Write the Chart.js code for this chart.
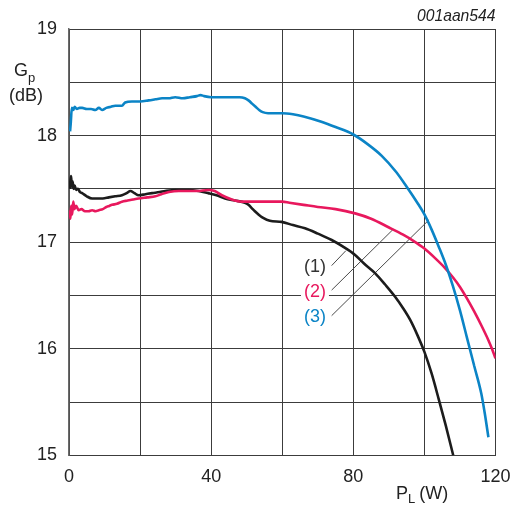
<!DOCTYPE html>
<html>
<head>
<meta charset="utf-8">
<script src="https://cdn.jsdelivr.net/npm/chart.js@4.4.1/dist/chart.umd.min.js"></script>
<style>
  html, body { margin: 0; padding: 0; background: #fff; }
  #wrap { position: relative; width: 515px; height: 507px; }
</style>
</head>
<body>
<div id="wrap"><canvas id="c" width="515" height="507"></canvas></div>
<script>
// ---- Data ----
const curve1P = [0.2, 0.4, 0.6, 0.8, 1.0, 1.3, 1.6, 2.0, 2.5, 3.1, 3.7, 5.0, 6.5, 8.0, 9.5, 11.2, 13.0, 14.9, 16.2, 17.3, 18.4, 19.6, 21.5, 23.4, 25.5, 27.1, 30.0, 33.6, 36.5, 39.2, 41.5, 43.9, 46.7, 49.5, 50.5, 51.4, 52.3, 53.3, 54.5, 56.5, 59.8, 63.0, 66.4, 70.0, 73.9, 77.0, 80.5, 83.0, 86.1, 89.0, 91.7, 94.0, 96.0, 98.0, 100.0, 102.0, 104.0, 106.0, 108.1];
const curve1G = [17.50, 17.58, 17.62, 17.52, 17.57, 17.50, 17.53, 17.49, 17.50, 17.47, 17.46, 17.43, 17.41, 17.41, 17.41, 17.42, 17.43, 17.44, 17.46, 17.48, 17.46, 17.44, 17.45, 17.46, 17.47, 17.48, 17.49, 17.49, 17.48, 17.46, 17.44, 17.41, 17.39, 17.37, 17.35, 17.32, 17.29, 17.26, 17.23, 17.20, 17.19, 17.16, 17.13, 17.08, 17.02, 16.96, 16.88, 16.80, 16.71, 16.60, 16.49, 16.38, 16.27, 16.13, 15.97, 15.77, 15.53, 15.28, 15.00];

const curve2P = [0.2, 0.4, 0.6, 0.9, 1.2, 1.5, 2.0, 2.7, 3.5, 4.5, 5.5, 6.5, 7.5, 8.4, 9.5, 10.5, 11.3, 12.1, 13.5, 14.9, 16.5, 18.0, 19.6, 22.0, 24.3, 26.0, 28.1, 30.9, 33.0, 36.0, 39.2, 41.0, 43.0, 45.8, 48.6, 52.0, 56.0, 60.0, 62.0, 66.0, 70.0, 75.0, 80.5, 85.0, 89.9, 94.0, 97.0, 100.0, 103.0, 106.0, 108.0, 110.0, 112.0, 114.0, 116.0, 118.0, 119.0, 120.0];
const curve2G = [17.30, 17.22, 17.34, 17.26, 17.38, 17.31, 17.34, 17.30, 17.31, 17.29, 17.29, 17.30, 17.29, 17.30, 17.31, 17.33, 17.34, 17.35, 17.36, 17.38, 17.39, 17.40, 17.41, 17.42, 17.43, 17.45, 17.47, 17.48, 17.48, 17.48, 17.49, 17.48, 17.44, 17.40, 17.38, 17.38, 17.38, 17.38, 17.37, 17.35, 17.33, 17.31, 17.27, 17.22, 17.14, 17.07, 17.01, 16.94, 16.85, 16.75, 16.67, 16.58, 16.47, 16.35, 16.22, 16.08, 16.00, 15.91];

const curve3P = [0.3, 0.5, 0.8, 1.2, 1.6, 2.2, 3.0, 3.7, 5.0, 6.2, 7.4, 8.4, 9.3, 10.5, 11.8, 13.0, 14.9, 15.8, 17.7, 20.0, 22.4, 24.3, 26.2, 28.0, 29.9, 32.0, 34.0, 36.0, 37.0, 38.0, 40.0, 44.0, 48.0, 49.5, 50.5, 51.5, 52.5, 53.5, 54.5, 56.0, 60.0, 63.0, 66.0, 71.0, 75.0, 80.0, 84.0, 88.0, 92.0, 95.0, 98.0, 100.0, 102.0, 104.0, 106.0, 108.0, 110.0, 112.0, 114.0, 116.0, 117.0, 118.0];
const curve3G = [18.04, 18.12, 18.26, 18.24, 18.27, 18.25, 18.26, 18.26, 18.25, 18.25, 18.24, 18.26, 18.24, 18.26, 18.27, 18.28, 18.28, 18.31, 18.32, 18.32, 18.33, 18.34, 18.35, 18.35, 18.36, 18.35, 18.36, 18.37, 18.38, 18.37, 18.36, 18.36, 18.36, 18.35, 18.33, 18.30, 18.27, 18.24, 18.22, 18.21, 18.21, 18.20, 18.18, 18.13, 18.08, 18.01, 17.92, 17.81, 17.66, 17.52, 17.37, 17.26, 17.12, 16.96, 16.79, 16.59, 16.36, 16.10, 15.84, 15.58, 15.39, 15.17];

const curveLabels = ['(1)', '(2)', '(3)'];
const labelP = [69.2, 69.2, 69.2];
const labelG = [16.77, 16.53, 16.30];
const leaderStartP = [73.9, 73.9, 73.9];
const leaderStartG = [16.78, 16.55, 16.31];
const leaderEndP = [77.9, 91.2, 101.3];
const leaderEndG = [16.92, 17.12, 17.21];

const xMin = 0, xMax = 120, xStep = 20, xLabelEvery = 40;
const yMin = 15, yMax = 19, yStep = 0.5;

const chartCode = '001aan544';

// ---- Styles ----
const colors = ['#1c1c1c', '#e8185d', '#0b84c6'];
const labelColors = ['#333333', '#e8185d', '#0b84c6'];
const FONT = '"Liberation Sans", Arial, Helvetica, sans-serif';

function pts(px, py) { return px.map((p, i) => ({ x: p, y: py[i] })); }

const datasets = [];
for (let i = 0; i < 3; i++) {
  datasets.push({
    data: [{ x: leaderStartP[i], y: leaderStartG[i] }, { x: leaderEndP[i], y: leaderEndG[i] }],
    borderColor: '#4a4a4a', borderWidth: 1, pointRadius: 0, showLine: true, tension: 0, order: 5
  });
}
const series = [[curve1P, curve1G], [curve2P, curve2G], [curve3P, curve3G]];
series.forEach((s, i) => {
  datasets.push({
    data: pts(s[0], s[1]),
    borderColor: colors[i], borderWidth: 2.6, pointRadius: 0, showLine: true,
    tension: 0.3, cubicInterpolationMode: 'monotone', borderCapStyle: 'butt', borderJoinStyle: 'round',
    order: 3 - i
  });
});

const textPlugin = {
  id: 'texts',
  beforeDatasetsDraw(chart) {
    const { ctx, scales: { x, y } } = chart;
    ctx.save();
    ctx.font = '18px ' + FONT;
    const i = 1;
    const cx = x.getPixelForValue(labelP[i]), cy = y.getPixelForValue(labelG[i]);
    const w = ctx.measureText(curveLabels[i]).width;
    ctx.fillStyle = '#ffffff';
    ctx.fillRect(cx - w / 2 - 3, cy - 10, w + 6, 20);
    ctx.restore();
  },
  afterDraw(chart) {
    const { ctx, scales: { x, y }, chartArea } = chart;
    ctx.save();
    ctx.textBaseline = 'middle';
    ctx.font = '18px ' + FONT;
    ctx.textAlign = 'center';
    for (let i = 0; i < 3; i++) {
      ctx.fillStyle = labelColors[i];
      ctx.fillText(curveLabels[i], x.getPixelForValue(labelP[i]), y.getPixelForValue(labelG[i]));
    }
    ctx.fillStyle = '#222';
    ctx.font = 'italic 15.7px ' + FONT;
    ctx.textAlign = 'right';
    ctx.fillText(chartCode, chartArea.right, 17);
    ctx.fillStyle = '#222';
    ctx.textAlign = 'left';
    ctx.font = '18px ' + FONT;
    ctx.fillText('G', 14, 71);
    const gw = ctx.measureText('G').width;
    ctx.font = '13px ' + FONT;
    ctx.fillText('p', 14 + gw, 78);
    ctx.font = '18px ' + FONT;
    ctx.textAlign = 'center';
    ctx.fillText('(dB)', 26, 96);
    ctx.textAlign = 'left';
    let px = 396;
    const py = 494;
    ctx.font = '18px ' + FONT;
    ctx.fillText('P', px, py);
    px += ctx.measureText('P').width;
    ctx.font = '13px ' + FONT;
    ctx.fillText('L', px, py + 5);
    px += ctx.measureText('L').width + 4;
    ctx.font = '18px ' + FONT;
    ctx.fillText('(W)', px, py);
    ctx.restore();
  }
};

new Chart(document.getElementById('c'), {
  type: 'scatter',
  data: { datasets },
  plugins: [textPlugin],
  options: {
    responsive: false,
    animation: false,
    devicePixelRatio: 1,
    layout: { padding: { top: 29, right: 19.5, left: 0, bottom: 0 } },
    plugins: { legend: { display: false }, tooltip: { enabled: false } },
    scales: {
      x: {
        type: 'linear', min: xMin, max: xMax,
        afterFit(s) { s.height = 51.7; s.paddingLeft = 0; s.paddingRight = 0; },
        ticks: {
          stepSize: xStep, autoSkip: false, maxRotation: 0, padding: 11,
          color: '#222', font: { family: FONT, size: 18 },
          callback: v => (v % xLabelEvery === 0 ? String(v) : '')
        },
        grid: { color: '#3c3c3c', lineWidth: 1, drawTicks: false },
        border: { color: '#3c3c3c', width: 1 }
      },
      y: {
        type: 'linear', min: yMin, max: yMax,
        afterFit(s) { s.width = 69; s.paddingTop = 0; s.paddingBottom = 0; },
        ticks: {
          stepSize: yStep, autoSkip: false, padding: 12,
          color: '#222', font: { family: FONT, size: 18 },
          callback: v => (Number.isInteger(v) ? String(v) : '')
        },
        grid: { color: '#3c3c3c', lineWidth: 1, drawTicks: false },
        border: { color: '#6a6a6a', width: 1.5 }
      }
    }
  }
});
</script>
</body>
</html>
